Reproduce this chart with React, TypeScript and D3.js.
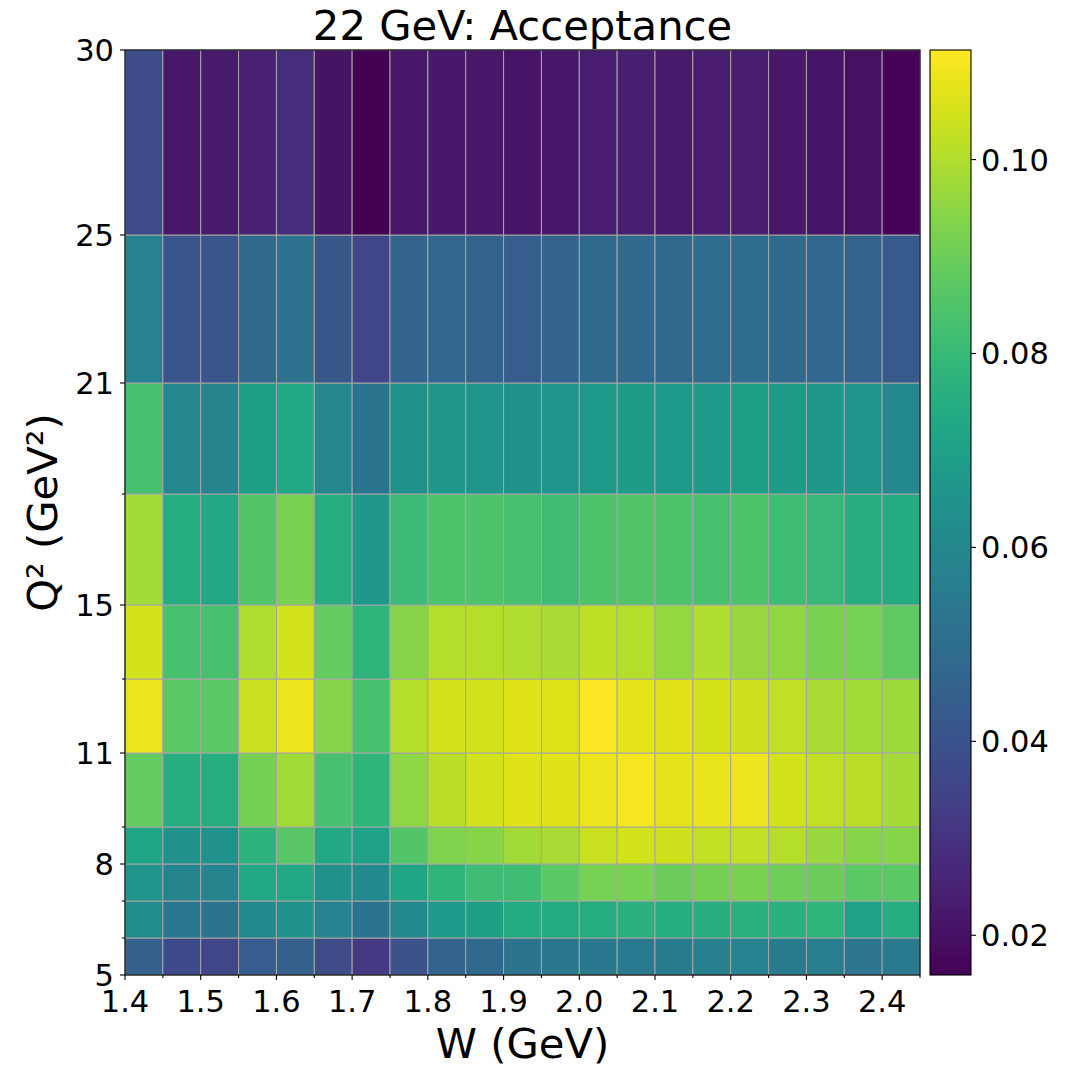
import React from "react";
import * as d3 from "d3";

// bin edges of the histogram
const wEdges = [1.4, 1.45, 1.5, 1.55, 1.6, 1.65, 1.7, 1.75, 1.8, 1.85, 1.9, 1.95, 2.0, 2.05, 2.1, 2.15, 2.2, 2.25, 2.3, 2.35, 2.4, 2.45];
const q2Edges = [5, 6, 7, 8, 9, 11, 13, 15, 18, 21, 25, 30];

const wTicks = [1.4, 1.5, 1.6, 1.7, 1.8, 1.9, 2.0, 2.1, 2.2, 2.3, 2.4];
const q2Ticks = [5, 8, 11, 15, 21, 25, 30];
const cbarTicks = [0.02, 0.04, 0.06, 0.08, 0.1];

// acceptance per Q2 bin, one value per W bin (low W -> high W)
const accQ2_5_6 = [0.0445, 0.0369, 0.0359, 0.0436, 0.0445, 0.0378, 0.0321, 0.0398, 0.0464, 0.0483, 0.0522, 0.0541, 0.0541, 0.055, 0.0555, 0.0569, 0.0579, 0.0555, 0.056, 0.0531, 0.055];
const accQ2_6_7 = [0.0617, 0.0541, 0.0522, 0.0607, 0.0646, 0.0579, 0.0522, 0.0607, 0.0679, 0.0693, 0.0741, 0.0741, 0.075, 0.077, 0.075, 0.076, 0.077, 0.077, 0.0779, 0.0698, 0.075];
const accQ2_7_8 = [0.0655, 0.0588, 0.0588, 0.0731, 0.0731, 0.0636, 0.0607, 0.0722, 0.0779, 0.0817, 0.0817, 0.087, 0.0917, 0.0917, 0.0898, 0.0913, 0.0922, 0.0903, 0.0898, 0.087, 0.087];
const accQ2_8_9 = [0.0722, 0.0636, 0.0646, 0.0774, 0.086, 0.0731, 0.0698, 0.0855, 0.0927, 0.0941, 0.0979, 0.0989, 0.1032, 0.1046, 0.1041, 0.1027, 0.1022, 0.1008, 0.0965, 0.0941, 0.0941];
const accQ2_9_11 = [0.0884, 0.075, 0.075, 0.0913, 0.0979, 0.0836, 0.0779, 0.0951, 0.1013, 0.1046, 0.1065, 0.1065, 0.1084, 0.1099, 0.1075, 0.108, 0.1089, 0.1046, 0.1022, 0.1013, 0.0984];
const accQ2_11_13 = [0.1084, 0.087, 0.087, 0.1037, 0.1084, 0.0941, 0.0836, 0.1008, 0.1046, 0.1046, 0.1065, 0.1061, 0.1113, 0.1075, 0.1065, 0.1051, 0.1041, 0.1022, 0.0989, 0.0979, 0.0975];
const accQ2_13_15 = [0.1046, 0.0836, 0.0836, 0.0999, 0.1046, 0.0884, 0.0779, 0.0941, 0.1008, 0.1008, 0.0999, 0.0989, 0.1018, 0.1008, 0.096, 0.0999, 0.0965, 0.0956, 0.0922, 0.0917, 0.0875];
const accQ2_15_18 = [0.0979, 0.075, 0.0731, 0.0855, 0.0922, 0.075, 0.0665, 0.0808, 0.0846, 0.0846, 0.0836, 0.0817, 0.0846, 0.0855, 0.0846, 0.0836, 0.0846, 0.0817, 0.0798, 0.076, 0.0741];
const accQ2_18_21 = [0.0836, 0.0598, 0.0588, 0.0693, 0.0731, 0.0598, 0.0522, 0.0636, 0.0665, 0.0655, 0.0641, 0.0655, 0.0674, 0.0684, 0.0674, 0.0679, 0.0693, 0.0684, 0.0669, 0.0655, 0.0607];
const accQ2_21_25 = [0.0579, 0.0407, 0.0407, 0.0483, 0.0512, 0.0417, 0.0359, 0.0464, 0.0474, 0.0455, 0.0436, 0.0464, 0.0483, 0.0483, 0.0483, 0.0488, 0.0493, 0.0483, 0.0474, 0.0455, 0.0426];
const accQ2_25_30 = [0.0378, 0.0216, 0.0226, 0.0245, 0.0283, 0.0207, 0.0159, 0.0216, 0.0221, 0.0216, 0.0211, 0.0216, 0.0235, 0.024, 0.0226, 0.0231, 0.0231, 0.0221, 0.0211, 0.0197, 0.0169];

const acceptance = [accQ2_5_6, accQ2_6_7, accQ2_7_8, accQ2_8_9, accQ2_9_11, accQ2_11_13, accQ2_13_15, accQ2_15_18, accQ2_18_21, accQ2_21_25, accQ2_25_30];

const FONT = "DejaVu Sans";

export default function App() {
  const left = 125, right = 920, top = 50, bottom = 975;
  const cbLeft = 930, cbRight = 971;

  const x = d3.scaleLinear().domain([wEdges[0], wEdges[wEdges.length - 1]]).range([left, right]);
  const y = d3.scaleLinear().domain([q2Edges[0], q2Edges[q2Edges.length - 1]]).range([bottom, top]);

  const extent = d3.extent(acceptance.flat()) as [number, number];
  const color = d3.scaleSequential(d3.interpolateViridis).domain(extent);
  const cy = d3.scaleLinear().domain(extent).range([bottom, top]);

  // cells
  const cells = [];
  acceptance.forEach((row, j) => {
    row.forEach((v, i) => {
      const x0 = x(wEdges[i]), x1 = x(wEdges[i + 1]);
      const y0 = y(q2Edges[j + 1]), y1 = y(q2Edges[j]);
      cells.push(
        <rect key={`c-${j}-${i}`} x={x0} y={y0} width={x1 - x0} height={y1 - y0}
          fill={color(v)} stroke="#a6a6a6" strokeWidth={1} />
      );
    });
  });

  const gradStops = d3.range(0, 1.0001, 0.02);

  return (
    <svg width={1083} height={1066} style={{ position: "absolute", left: 0, top: 0, background: "white" }}
      fontFamily={FONT}>
      <defs>
        <linearGradient id="viridis" x1="0" y1="1" x2="0" y2="0">
          {gradStops.map((t, i) => (
            <stop key={i} offset={`${t * 100}%`} stopColor={d3.interpolateViridis(t)} />
          ))}
        </linearGradient>
      </defs>

      {cells}
      <rect x={left} y={top} width={right - left} height={bottom - top} fill="none" stroke="#000" strokeWidth={1.1} />

      {/* x ticks: every bin edge, labels on major */}
      {wEdges.map((w, i) => (
        <line key={`xt-${i}`} x1={x(w)} x2={x(w)} y1={bottom} y2={bottom + (wTicks.some(t => Math.abs(t - w) < 1e-6) ? 5 : 3)}
          stroke="#000" strokeWidth={1.1} />
      ))}
      {wTicks.map((w, i) => (
        <text key={`xl-${i}`} x={x(w)} y={1012} textAnchor="middle" fontSize={30.5}>{w.toFixed(1)}</text>
      ))}

      {/* y ticks */}
      {q2Edges.map((q, i) => (
        <line key={`yt-${i}`} x1={left} x2={left - (q2Ticks.includes(q) ? 5 : 3)} y1={y(q)} y2={y(q)}
          stroke="#000" strokeWidth={1.1} />
      ))}
      {q2Ticks.map((q, i) => (
        <text key={`yl-${i}`} x={114} y={y(q) + 11} textAnchor="end" fontSize={30.5}>{q}</text>
      ))}

      {/* labels */}
      <text x={(left + right) / 2} y={40} textAnchor="middle" fontSize={41.7}>22 GeV: Acceptance</text>
      <text x={(left + right) / 2} y={1058} textAnchor="middle" fontSize={41.7}>W (GeV)</text>
      <text transform={`translate(57,${(top + bottom) / 2}) rotate(-90)`} textAnchor="middle" fontSize={41.7}>Q² (GeV²)</text>

      {/* colorbar */}
      <rect x={cbLeft} y={top} width={cbRight - cbLeft} height={bottom - top} fill="url(#viridis)" stroke="#000" strokeWidth={1.1} />
      {cbarTicks.map((t, i) => (
        <g key={`cb-${i}`}>
          <line x1={cbRight} x2={cbRight + 5} y1={cy(t)} y2={cy(t)} stroke="#000" strokeWidth={1.1} />
          <text x={cbRight + 10} y={cy(t) + 11} fontSize={30.5}>{t.toFixed(2)}</text>
        </g>
      ))}
    </svg>
  );
}
